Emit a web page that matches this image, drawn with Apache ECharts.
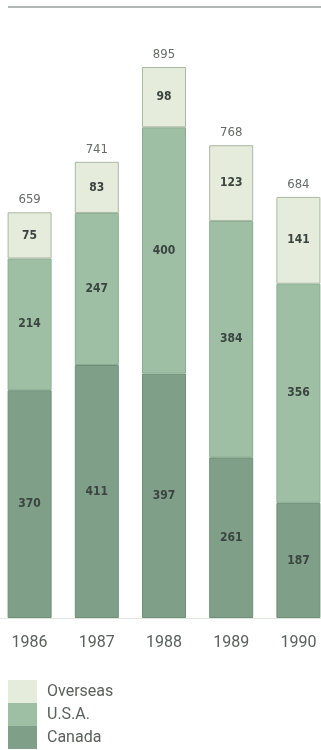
<!DOCTYPE html>
<html>
<head>
<meta charset="utf-8">
<script src="https://cdn.jsdelivr.net/npm/echarts@6/dist/echarts.min.js"></script>
<style>
  html, body { margin: 0; padding: 0; background: #fff; }
  #chart { width: 321px; height: 750px; }
</style>
</head>
<body>
<div id="chart"></div>
<script>
var years = ['1986', '1987', '1988', '1989', '1990'];
var canada = [370, 411, 397, 261, 187];
var usa = [214, 247, 400, 384, 356];
var overseas = [75, 83, 98, 123, 141];
var totals = [659, 741, 895, 768, 684];

var narrow = '"Liberation Sans Narrow", "DejaVu Sans Condensed", "Roboto Condensed", sans-serif';

var chart = echarts.init(document.getElementById('chart'));

function seg(name, data, color, border) {
  return {
    name: name,
    type: 'bar',
    stack: 'all',
    barWidth: 44,
    data: data,
    itemStyle: { color: color, borderColor: border, borderWidth: 1 },
    label: {
      show: true,
      position: 'inside',
      color: '#3a4440',
      fontFamily: narrow,
      fontSize: 12,
      fontWeight: 'bold'
    }
  };
}

chart.setOption({
  animation: false,
  grid: { left: -4, width: 336, top: 2.4, bottom: 132, outerBoundsMode: 'none', containLabel: false },
  legend: {
    orient: 'vertical',
    left: 8,
    top: 680,
    padding: 0,
    height: 200,
    itemWidth: 29,
    itemHeight: 23,
    itemGap: 0,
    icon: 'rect',
    itemStyle: { borderWidth: 0 },
    textStyle: { color: '#5a605c', fontSize: 16, lineHeight: 17, fontFamily: 'Roboto, sans-serif', padding: [0, 0, 0, 5] },
    data: ['Overseas', 'U.S.A.', 'Canada']
  },
  xAxis: {
    type: 'category',
    data: years,
    axisLine: { lineStyle: { color: '#dfe6da' } },
    axisTick: { show: false },
    axisLabel: { margin: 17, fontSize: 16, color: '#5a605c', fontFamily: 'Roboto, sans-serif' }
  },
  yAxis: {
    type: 'value',
    min: 0,
    max: 1000,
    show: false
  },
  graphic: [{
    type: 'line',
    shape: { x1: 8, y1: 7, x2: 321, y2: 7 },
    style: { stroke: '#9aa09c', lineWidth: 1.5 }
  }],
  series: [
    seg('Canada', canada, '#809f88', '#6f8f78'),
    seg('U.S.A.', usa, '#9ebfa4', '#8aad91'),
    seg('Overseas', overseas, '#e6ecdb', '#aab8a4'),
    {
      name: 'total',
      type: 'bar',
      stack: 'all',
      barWidth: 44,
      data: totals.map(function () { return 0; }),
      itemStyle: { color: 'transparent' },
      label: {
        show: true,
        position: 'top',
        distance: 6,
        color: '#666b67',
        fontFamily: narrow,
        fontSize: 13,
        formatter: function (p) { return totals[p.dataIndex]; }
      }
    }
  ]
});
</script>
</body>
</html>
